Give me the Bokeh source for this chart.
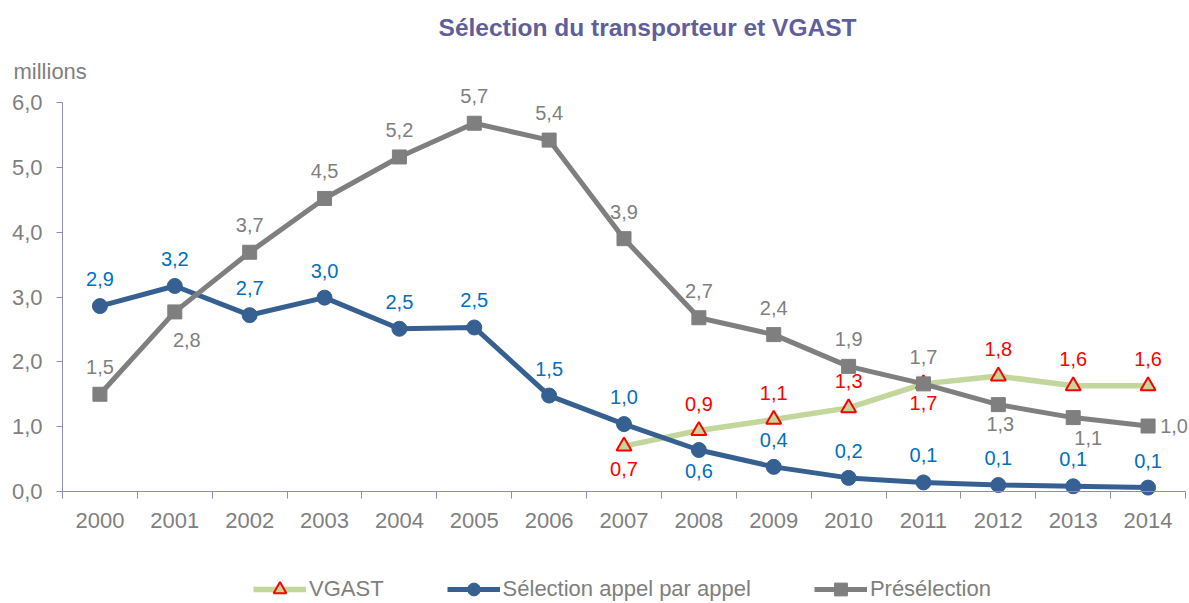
from bokeh.plotting import figure
from bokeh.models import (ColumnDataSource, Range1d, FixedTicker,
                          CustomJSTickFormatter, Label, Legend, LegendItem)
from bokeh.core.properties import value
from bokeh.embed import file_html
from bokeh.resources import INLINE

years = ["2000", "2001", "2002", "2003", "2004", "2005", "2006", "2007",
         "2008", "2009", "2010", "2011", "2012", "2013", "2014"]
preselection = [1.50, 2.77, 3.69, 4.52, 5.16, 5.68, 5.42, 3.90, 2.68, 2.42, 1.93, 1.66, 1.34, 1.14, 1.01]
selection_appel = [2.86, 3.17, 2.72, 2.99, 2.51, 2.53, 1.48, 1.04, 0.64, 0.38, 0.21, 0.14, 0.10, 0.08, 0.06]
vgast_years = ["2007", "2008", "2009", "2010", "2011", "2012", "2013", "2014"]
vgast = [0.70, 0.94, 1.11, 1.29, 1.66, 1.78, 1.63, 1.63]
y_ticks = [0, 1, 2, 3, 4, 5, 6]

# label placement (style): pixel offsets (dx, dy) for labels not placed above
pre_offsets = {"2001": (12, 28), "2012": (2, 19), "2013": (15, 20), "2014": (26, 0)}
sel_offsets = {"2008": (0, 21)}
vg_offsets = {"2007": (0, 23), "2011": (0, 19)}
ABOVE = (0, -27)

FONT = "Liberation Sans"
GRAY = "#7F7F7F"
BLUE_LINE = "#376092"
BLUE_TXT = "#0070C0"
GREEN = "#C3D69B"
RED = "#FF0000"
AXIS = "#8C8CBE"
TXT = "#7F7F7F"

W, H = 1189, 603
FL, FR, FT, FB = 62, 1185, 102, 491          # plot area in pixels
ppx = (FR - FL) / len(years)
ppy = (FB - FT) / y_ticks[-1]

def fmt(v):
    return ("%.1f" % v).replace(".", ",")

def xpos(y):
    return years.index(y) + 0.5

p = figure(width=W, height=H, output_backend="svg", toolbar_location=None,
           x_range=Range1d(-FL / ppx, len(years) + (W - FR) / ppx),
           y_range=Range1d(-(H - FB) / ppy, FB / ppy),
           min_border_left=0, min_border_right=0, min_border_top=0, min_border_bottom=0)
p.outline_line_color = None
p.xgrid.visible = False
p.ygrid.visible = False
p.background_fill_color = "white"
p.border_fill_color = "white"

def make_src(ys, vals):
    return ColumnDataSource(dict(x=[xpos(y) for y in ys], y=vals))

src_pre = make_src(years, preselection)
src_sel = make_src(years, selection_appel)
src_vg = make_src(vgast_years, vgast)

l_vg = p.line("x", "y", source=src_vg, line_color=GREEN, line_width=5.5)
m_vg = p.scatter("x", "y", source=src_vg, marker="triangle", size=15,
                 fill_color=GREEN, line_color=RED, line_width=2)
l_sel = p.line("x", "y", source=src_sel, line_color=BLUE_LINE, line_width=5)
m_sel = p.scatter("x", "y", source=src_sel, marker="circle", size=15,
                  fill_color=BLUE_LINE, line_color=BLUE_LINE)
l_pre = p.line("x", "y", source=src_pre, line_color=GRAY, line_width=5)
m_pre = p.scatter("x", "y", source=src_pre, marker="square", size=14,
                  fill_color=GRAY, line_color=GRAY)

def add_labels(ys, vals, color, offsets):
    xs = [xpos(y) for y in ys]
    dx = [offsets.get(y, ABOVE)[0] for y in ys]
    dy = [offsets.get(y, ABOVE)[1] for y in ys]
    s = ColumnDataSource(dict(x=xs, y=vals, lab=[fmt(v) for v in vals], dx=dx, dy=dy))
    p.text("x", "y", text="lab", source=s, text_color=color, x_offset="dx", y_offset="dy",
           text_align="center", text_baseline="middle",
           text_font=value(FONT), text_font_size="20px")

add_labels(years, preselection, GRAY, pre_offsets)
add_labels(years, selection_appel, BLUE_TXT, sel_offsets)
add_labels(vgast_years, vgast, RED, vg_offsets)

# axes
xa = p.xaxis[0]
xa.fixed_location = 0
xa.bounds = (0, len(years))
xa.ticker = FixedTicker(ticks=[i + 0.5 for i in range(len(years))],
                        minor_ticks=list(range(len(years) + 1)))
xa.formatter = CustomJSTickFormatter(args=dict(years=years),
                                     code="return years[Math.floor(tick)];")
xa.major_tick_out = 0
xa.major_tick_in = 0
xa.minor_tick_out = 7
xa.minor_tick_in = 0
xa.minor_tick_line_color = AXIS
xa.axis_line_color = AXIS
xa.major_label_text_font = FONT
xa.major_label_text_font_size = "22px"
xa.major_label_text_color = TXT
xa.major_label_standoff = 14

ya = p.yaxis[0]
ya.fixed_location = 0
ya.bounds = (0, y_ticks[-1])
ya.ticker = FixedTicker(ticks=y_ticks, minor_ticks=[])
ya.formatter = CustomJSTickFormatter(code="return tick.toFixed(1).replace('.', ',');")
ya.major_tick_out = 6
ya.major_tick_in = 0
ya.minor_tick_out = 0
ya.minor_tick_in = 0
ya.major_tick_line_color = AXIS
ya.axis_line_color = AXIS
ya.major_label_text_font = FONT
ya.major_label_text_font_size = "22px"
ya.major_label_text_color = TXT
ya.major_label_standoff = 14

p.add_layout(Label(x=647, y=H - 27, x_units="screen", y_units="screen",
                   text="Sélection du transporteur et VGAST", text_align="center",
                   text_baseline="middle", text_font=FONT, text_font_size="24.5px",
                   text_font_style="bold", text_color="#5F5F9B"))
p.add_layout(Label(x=13, y=H - 71, x_units="screen", y_units="screen",
                   text="millions", text_align="left", text_baseline="middle",
                   text_font=FONT, text_font_size="22px", text_color=TXT))

legend = Legend(items=[
    LegendItem(label="VGAST", renderers=[l_vg, m_vg]),
    LegendItem(label="Sélection appel par appel", renderers=[l_sel, m_sel]),
    LegendItem(label="Présélection", renderers=[l_pre, m_pre]),
], orientation="horizontal", location=(253, -2), border_line_color=None,
    background_fill_alpha=0, padding=0, margin=0, spacing=63,
    glyph_width=53, glyph_height=32, label_height=32, label_standoff=3,
    label_text_font=FONT, label_text_font_size="22px", label_text_color=TXT)
p.add_layout(legend, "center")

open("out.html", "w").write(file_html(p, INLINE))
